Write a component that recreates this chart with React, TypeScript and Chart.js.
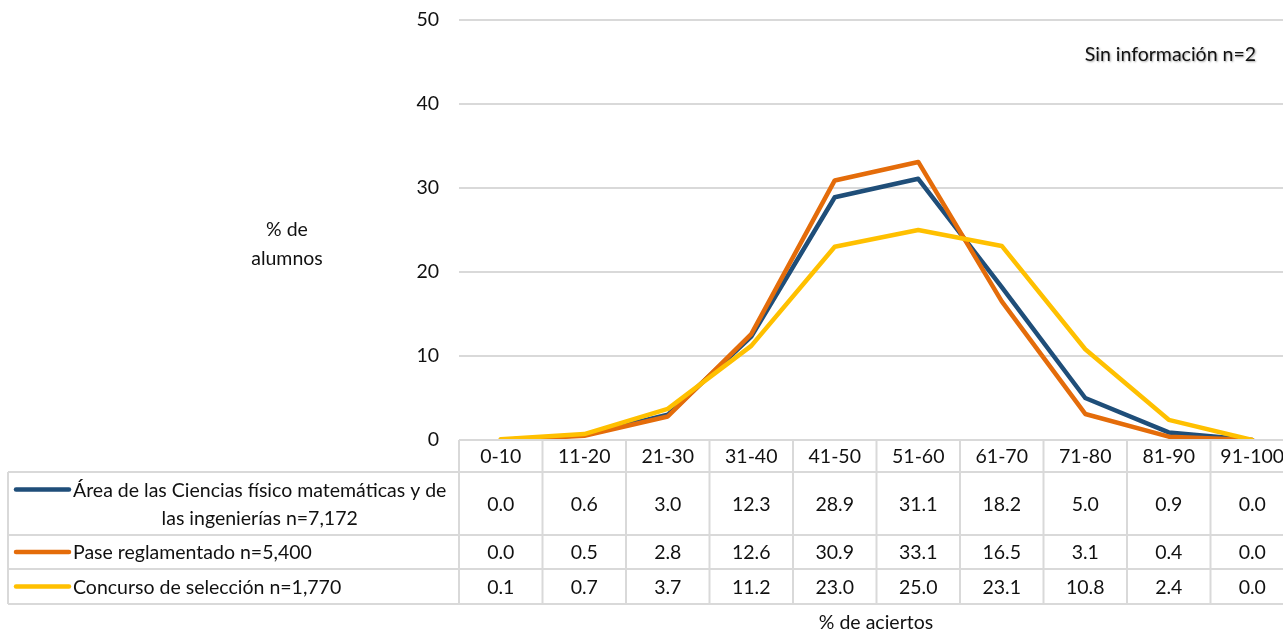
import React, { useEffect, useRef } from 'react';
import { Chart, registerables } from 'chart.js';

Chart.register(...registerables);

const categories = ['0-10', '11-20', '21-30', '31-40', '41-50', '51-60', '61-70', '71-80', '81-90', '91-100'];
const areaCiencias = [0.0, 0.6, 3.0, 12.3, 28.9, 31.1, 18.2, 5.0, 0.9, 0.0];
const paseReglamentado = [0.0, 0.5, 2.8, 12.6, 30.9, 33.1, 16.5, 3.1, 0.4, 0.0];
const concursoSeleccion = [0.1, 0.7, 3.7, 11.2, 23.0, 25.0, 23.1, 10.8, 2.4, 0.0];
const seriesNames: string[][] = [
  ['Área de las Ciencias físico matemáticas y de', 'las ingenierías n=7,172'],
  ['Pase reglamentado n=5,400'],
  ['Concurso de selección n=1,770'],
];
const seriesColors = ['#1F4E79', '#E46C0A', '#FFC000'];
const yTitle = ['% de', 'alumnos'];
const xTitle = '% de aciertos';
const note = 'Sin información n=2';

const FONT = 'Lato, "Open Sans", sans-serif';
const FS = 19.5;
const TEXT = '#111111';
const GRID = '#d9d9d9';

export default function App() {
  const ref = useRef<HTMLCanvasElement>(null);

  useEffect(() => {
    const canvas = ref.current;
    if (!canvas) return;
    const allSeries = [areaCiencias, paseReglamentado, concursoSeleccion];

    const tablePlugin = {
      id: 'dataTable',
      afterDraw(chart: any) {
        const ctx = chart.ctx as CanvasRenderingContext2D;
        const xs = chart.scales.x;
        const area = chart.chartArea;
        const n = categories.length;
        const colW = (area.right - area.left) / n;
        const rowsY = [area.bottom, 472, 535, 569, 604];
        const tableLeft = 8;
        const W = chart.width;
        ctx.save();
        ctx.strokeStyle = GRID;
        ctx.lineWidth = 2;
        ctx.beginPath();
        ctx.moveTo(area.left, rowsY[0]);
        ctx.lineTo(W, rowsY[0]);
        for (let r = 1; r < rowsY.length; r++) {
          ctx.moveTo(tableLeft, rowsY[r]);
          ctx.lineTo(W, rowsY[r]);
        }
        for (let k = 0; k <= n; k++) {
          const xx = area.left + k * colW;
          ctx.moveTo(xx, rowsY[0]);
          ctx.lineTo(xx, rowsY[rowsY.length - 1]);
        }
        ctx.moveTo(tableLeft, rowsY[1]);
        ctx.lineTo(tableLeft, rowsY[rowsY.length - 1]);
        ctx.stroke();

        ctx.font = `${FS}px ${FONT}`;
        ctx.fillStyle = TEXT;
        ctx.textAlign = 'center';
        ctx.textBaseline = 'middle';
        // header
        categories.forEach((c, i) => {
          ctx.fillText(c, xs.getPixelForValue(i), (rowsY[0] + rowsY[1]) / 2 + 1);
        });
        // values
        allSeries.forEach((arr, s) => {
          const cy = (rowsY[s + 1] + rowsY[s + 2]) / 2 + 1;
          arr.forEach((v, i) => {
            ctx.fillText(v.toFixed(1), xs.getPixelForValue(i), cy);
          });
        });
        // legend keys
        allSeries.forEach((_, s) => {
          const lines = seriesNames[s];
          const top = rowsY[s + 1];
          const bottom = rowsY[s + 2];
          const lh = 28;
          const startY = (top + bottom) / 2 - ((lines.length - 1) * lh) / 2;
          ctx.strokeStyle = seriesColors[s];
          ctx.lineWidth = 4.5;
          ctx.lineCap = 'round';
          ctx.beginPath();
          ctx.moveTo(16, startY);
          ctx.lineTo(69, startY);
          ctx.stroke();
          ctx.fillStyle = TEXT;
          const w0 = ctx.measureText(lines[0]).width;
          const cx = 73 + w0 / 2;
          ctx.textAlign = 'center';
          lines.forEach((ln, li) => {
            ctx.fillText(ln, cx, startY + li * lh + 1);
          });
        });
        // axis titles
        ctx.textAlign = 'center';
        yTitle.forEach((t, i) => ctx.fillText(t, 287, 230 + i * 29));
        ctx.fillText(xTitle, 876, 623);
        // note with shadow
        ctx.shadowColor = 'rgba(0,0,0,0.35)';
        ctx.shadowOffsetX = 1;
        ctx.shadowOffsetY = 1;
        ctx.shadowBlur = 2;
        ctx.textAlign = 'right';
        ctx.fillText(note, 1256, 55);
        ctx.restore();
      },
    };

    const chart = new Chart(canvas, {
      type: 'line',
      data: {
        labels: categories,
        datasets: allSeries.map((arr, s) => ({
          label: seriesNames[s].join(' '),
          data: arr,
          borderColor: seriesColors[s],
          backgroundColor: seriesColors[s],
          borderWidth: 4.5,
          pointRadius: 0,
          tension: 0,
          borderJoinStyle: 'round' as const,
          borderCapStyle: 'round' as const,
          order: 3 - s,
          fill: false,
        })),
      },
      options: {
        responsive: false,
        animation: false,
        layout: { padding: { left: 0, right: 6, top: 20, bottom: 193 } },
        plugins: { legend: { display: false }, tooltip: { enabled: false } },
        scales: {
          x: {
            display: false,
            offset: true,
          },
          y: {
            min: 0,
            max: 50,
            ticks: {
              stepSize: 10,
              color: TEXT,
              padding: 20,
              font: { family: FONT, size: FS },
            },
            grid: { color: GRID, lineWidth: 2, drawTicks: false },
            border: { display: false },
            afterFit: (scale: any) => {
              scale.width = 459;
              scale.paddingTop = 0;
              scale.paddingBottom = 0;
            },
          },
        },
      },
      plugins: [tablePlugin],
    });
    return () => chart.destroy();
  }, []);

  return (
    <div style={{ position: 'fixed', left: 0, top: 0, width: 1283, height: 633, overflow: 'hidden', background: '#fff' }}>
      <canvas ref={ref} width={1300} height={633} style={{ display: 'block' }} />
    </div>
  );
}
